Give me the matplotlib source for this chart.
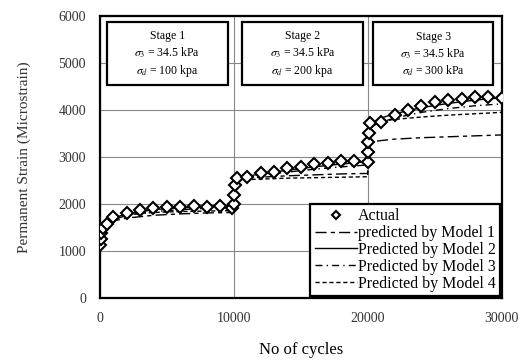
import matplotlib
matplotlib.use("Agg")
from matplotlib import pyplot as plt
from matplotlib.patches import Rectangle

plt.rcParams['font.family'] = ['Liberation Serif', 'DejaVu Serif']
plt.rcParams['mathtext.fontset'] = 'stix'

# Measured (actual) permanent strain, three loading stages
cycles_actual = [10, 50, 100, 200, 500, 1000, 2000, 3000, 4000, 5000, 6000, 7000, 8000, 9000, 9900,
                 10010, 10050, 10100, 10200, 11000, 12000, 13000, 14000, 15000, 16000, 17000, 18000, 19000, 20000,
                 20010, 20050, 20100, 20200, 21000, 22000, 23000, 24000, 25000, 26000, 27000, 28000, 29000, 30000]
strain_actual = [1120, 1250, 1380, 1480, 1580, 1720, 1800, 1870, 1920, 1930, 1940, 1950, 1940, 1950, 1920,
                 2000, 2200, 2400, 2550, 2580, 2650, 2680, 2770, 2790, 2860, 2870, 2920, 2920, 2890,
                 3100, 3320, 3510, 3720, 3750, 3890, 4000, 4090, 4170, 4210, 4230, 4280, 4280, 4260]

# Model predictions
cycles_model = [10, 500, 1000, 2000, 4000, 6000, 8000, 9990,
                10010, 10500, 11000, 12000, 14000, 16000, 18000, 19990,
                20010, 20500, 21000, 22000, 24000, 26000, 28000, 30000]
model1 = [1150, 1560, 1640, 1700, 1760, 1790, 1810, 1820,
          2500, 2530, 2550, 2570, 2600, 2620, 2640, 2650,
          3280, 3330, 3350, 3380, 3410, 3430, 3450, 3470]
model2 = [1150, 1590, 1700, 1790, 1880, 1920, 1950, 1970,
          2480, 2560, 2590, 2640, 2720, 2790, 2850, 2900,
          3650, 3760, 3830, 3920, 4050, 4140, 4210, 4260]
model3 = [1140, 1550, 1660, 1760, 1840, 1880, 1910, 1930,
          2450, 2530, 2560, 2610, 2680, 2740, 2790, 2830,
          3550, 3680, 3740, 3830, 3950, 4030, 4090, 4130]
model4 = [1300, 1700, 1740, 1780, 1820, 1840, 1850, 1860,
          2480, 2510, 2520, 2530, 2550, 2560, 2570, 2580,
          3600, 3720, 3760, 3800, 3850, 3890, 3920, 3950]

stage_names = ["Stage 1", "Stage 2", "Stage 3"]
stage_sd = ["100 kpa", "200 kpa", "300 kPa"]
stage_x = [(500, 9550), (10600, 19650), (20400, 29350)]

fig = plt.figure(figsize=(5.2, 3.63), dpi=100)
ax = fig.add_axes([0.192, 0.179, 0.773, 0.777])

ax.plot(cycles_model, model1, color="black", lw=1.0, dashes=(8, 3, 3, 3), label="predicted by Model 1")
ax.plot(cycles_model, model2, color="black", lw=1.0, ls="-", label="Predicted by Model 2")
ax.plot(cycles_model, model3, color="black", lw=1.0, dashes=(5, 3, 1, 3), label="Predicted by Model 3")
ax.plot(cycles_model, model4, color="black", lw=1.0, dashes=(3, 2), label="Predicted by Model 4")
ax.plot(cycles_actual, strain_actual, ls="none", marker="D", ms=6.5, mfc="white", mec="black", mew=1.5,
        label="Actual", zorder=5)

ax.set_xlim(0, 30000)
ax.set_ylim(0, 6000)
ax.set_xticks([0, 10000, 20000, 30000])
ax.set_yticks(range(0, 6001, 1000))
ax.grid(True, color="#888888", lw=0.8)
ax.tick_params(length=0, labelsize=10, labelcolor="#333333", pad=10)
for s in ax.spines.values():
    s.set_linewidth(1.6)

# stage annotation boxes
for name, sd, (x0, x1) in zip(stage_names, stage_sd, stage_x):
    ax.add_patch(Rectangle((x0, 4540), x1 - x0, 1330, fc="white", ec="black", lw=1.6, zorder=6))
    ax.text((x0 + x1) / 2, 5180, name + "\n" + r"$\sigma_3$ = 34.5 kPa" + "\n" + r"$\sigma_d$ = " + sd,
            ha="center", va="center", fontsize=8.5, linespacing=1.3, zorder=7)

handles, labels = ax.get_legend_handles_labels()
order = [4, 0, 1, 2, 3]
leg = ax.legend([handles[i] for i in order], [labels[i] for i in order], loc="lower right",
                fontsize=11.5, frameon=True, fancybox=False, edgecolor="black", framealpha=1,
                borderaxespad=0.1, handlelength=2.6, handletextpad=0.05, labelspacing=0.05,
                borderpad=0.3)
leg.get_frame().set_linewidth(1.6)
leg.legend_handles[0].set_markersize(4)

ax.set_xlabel("No of cycles", fontsize=12, labelpad=12)
ax.set_ylabel("Permanent Strain (Microstrain)", fontsize=11, labelpad=20, color="#333333")

plt.savefig("out.png", dpi=100)
